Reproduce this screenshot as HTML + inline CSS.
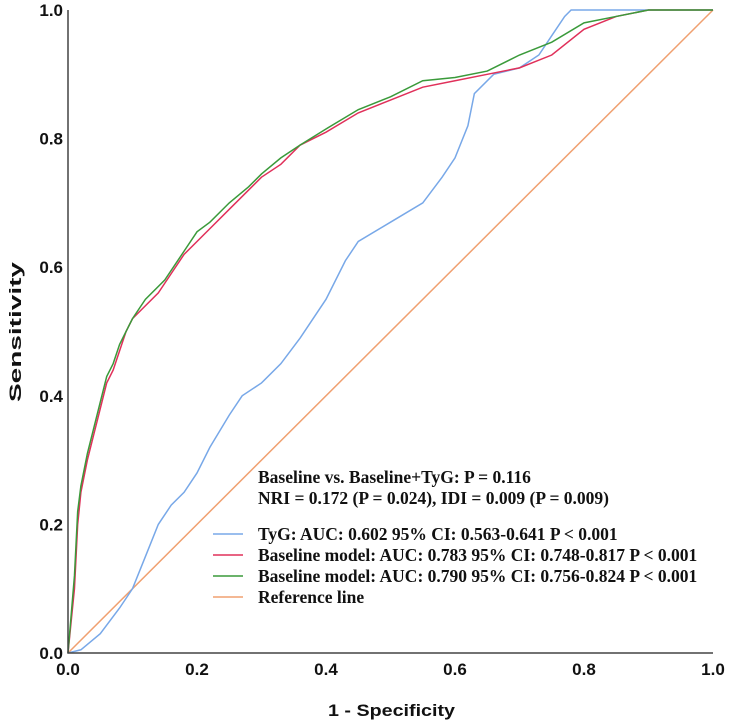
<!DOCTYPE html>
<html><head><meta charset="utf-8"><style>
body{margin:0;background:#fff;}
svg{display:block;}
.tk{font-family:"Liberation Sans",sans-serif;font-weight:bold;font-size:17px;fill:#111;}
.lg{font-family:"Liberation Serif",serif;font-weight:bold;font-size:17.5px;fill:#111;}
</style></head><body>
<svg id="c" width="729" height="723">
<g id="plot"></g>
</svg>
<script>
const xTicks=[0,0.2,0.4,0.6,0.8,1.0];
const yTicks=[0,0.2,0.4,0.6,0.8,1.0];
const tygFpr=[0,0.02,0.05,0.08,0.1,0.12,0.14,0.16,0.18,0.2,0.22,0.25,0.27,0.3,0.33,0.36,0.4,0.43,0.45,0.5,0.55,0.58,0.6,0.62,0.63,0.66,0.7,0.73,0.75,0.77,0.78,1];
const tygTpr=[0,0.005,0.03,0.07,0.1,0.15,0.2,0.23,0.25,0.28,0.32,0.37,0.4,0.42,0.45,0.49,0.55,0.61,0.64,0.67,0.7,0.74,0.77,0.82,0.87,0.9,0.91,0.93,0.96,0.99,1,1];
const baseFpr=[0,0.005,0.01,0.015,0.02,0.03,0.04,0.05,0.06,0.07,0.08,0.09,0.1,0.12,0.14,0.16,0.18,0.2,0.22,0.25,0.28,0.3,0.33,0.36,0.4,0.45,0.5,0.55,0.6,0.65,0.7,0.75,0.8,0.85,0.9,1];
const baseTpr=[0,0.05,0.1,0.2,0.25,0.3,0.34,0.38,0.42,0.44,0.47,0.5,0.52,0.54,0.56,0.59,0.62,0.64,0.66,0.69,0.72,0.74,0.76,0.79,0.81,0.84,0.86,0.88,0.89,0.9,0.91,0.93,0.97,0.99,1,1];
const fullFpr=[0,0.005,0.01,0.015,0.02,0.03,0.04,0.05,0.06,0.07,0.08,0.09,0.1,0.12,0.15,0.18,0.2,0.22,0.25,0.28,0.3,0.33,0.36,0.4,0.45,0.5,0.55,0.6,0.65,0.7,0.75,0.8,0.85,0.9,1];
const fullTpr=[0,0.06,0.12,0.22,0.26,0.31,0.35,0.39,0.43,0.45,0.48,0.5,0.52,0.55,0.58,0.625,0.655,0.67,0.7,0.725,0.745,0.77,0.79,0.815,0.845,0.865,0.89,0.895,0.905,0.93,0.95,0.98,0.99,1,1];
const X0=68,X1=713,Y0=653,Y1=10;
const sx=v=>X0+v*(X1-X0), sy=v=>Y0-v*(Y0-Y1);
const NS='http://www.w3.org/2000/svg';
const g=document.getElementById('plot');
function mk(t,a){const e=document.createElementNS(NS,t);for(const k in a)e.setAttribute(k,a[k]);g.appendChild(e);return e;}
function line(fx,fy,col,name){
 const p=mk('polyline',{points:fx.map((v,i)=>sx(v)+','+sy(fy[i])).join(' '),fill:'none',stroke:col,'stroke-width':1.5});
 
 
}
const r=mk('line',{x1:sx(0),y1:sy(0),x2:sx(1),y2:sy(1),stroke:'#f0a070','stroke-width':1.5});


line(tygFpr,tygTpr,'#78a8e8','tyg-curve');
line(baseFpr,baseTpr,'#e0305a','baseline-curve');
line(fullFpr,fullTpr,'#3a9a3a','baseline-tyg-curve');
const ax=mk('path',{d:`M${X0},${Y1} V${Y0} H${X1}`,fill:'none',stroke:'#444','stroke-width':1.5});


xTicks.forEach(v=>{const t=mk('text',{x:sx(v),y:Y0+22,'text-anchor':'middle',class:'tk'});t.textContent=v.toFixed(1);

});
yTicks.forEach(v=>{const t=mk('text',{x:X0-5,y:sy(v)+6,'text-anchor':'end',class:'tk'});t.textContent=v.toFixed(1);

});
const xt=mk('text',{x:328,y:716,class:'tk','font-size':'20',textLength:'127',lengthAdjust:'spacingAndGlyphs'});xt.textContent='1 - Specificity';


const yt=mk('text',{x:0,y:0,class:'tk','font-size':'20',textLength:'140',lengthAdjust:'spacingAndGlyphs',transform:'translate(21 402) rotate(-90)'});yt.textContent='Sensitivity';


const notes=['Baseline vs. Baseline+TyG: P = 0.116','NRI = 0.172 (P = 0.024), IDI = 0.009 (P = 0.009)'];
notes.forEach((s,i)=>{const t=mk('text',{x:258,y:483+i*21,class:'lg'});t.textContent=s;

});
const legText=['TyG: AUC: 0.602 95% CI: 0.563-0.641 P < 0.001','Baseline model: AUC: 0.783 95% CI: 0.748-0.817 P < 0.001','Baseline model: AUC: 0.790 95% CI: 0.756-0.824 P < 0.001','Reference line'];
const legCol=['#78a8e8','#e0305a','#3a9a3a','#f0a070'];
legText.forEach((s,i)=>{const y=534+i*21;
 const l=mk('line',{x1:213,x2:243,y1:y,y2:y,stroke:legCol[i],'stroke-width':1.5});
 
 
 const t=mk('text',{x:258,y:y+6,class:'lg'});t.textContent=s;
 
 });
</script>
</body></html>
